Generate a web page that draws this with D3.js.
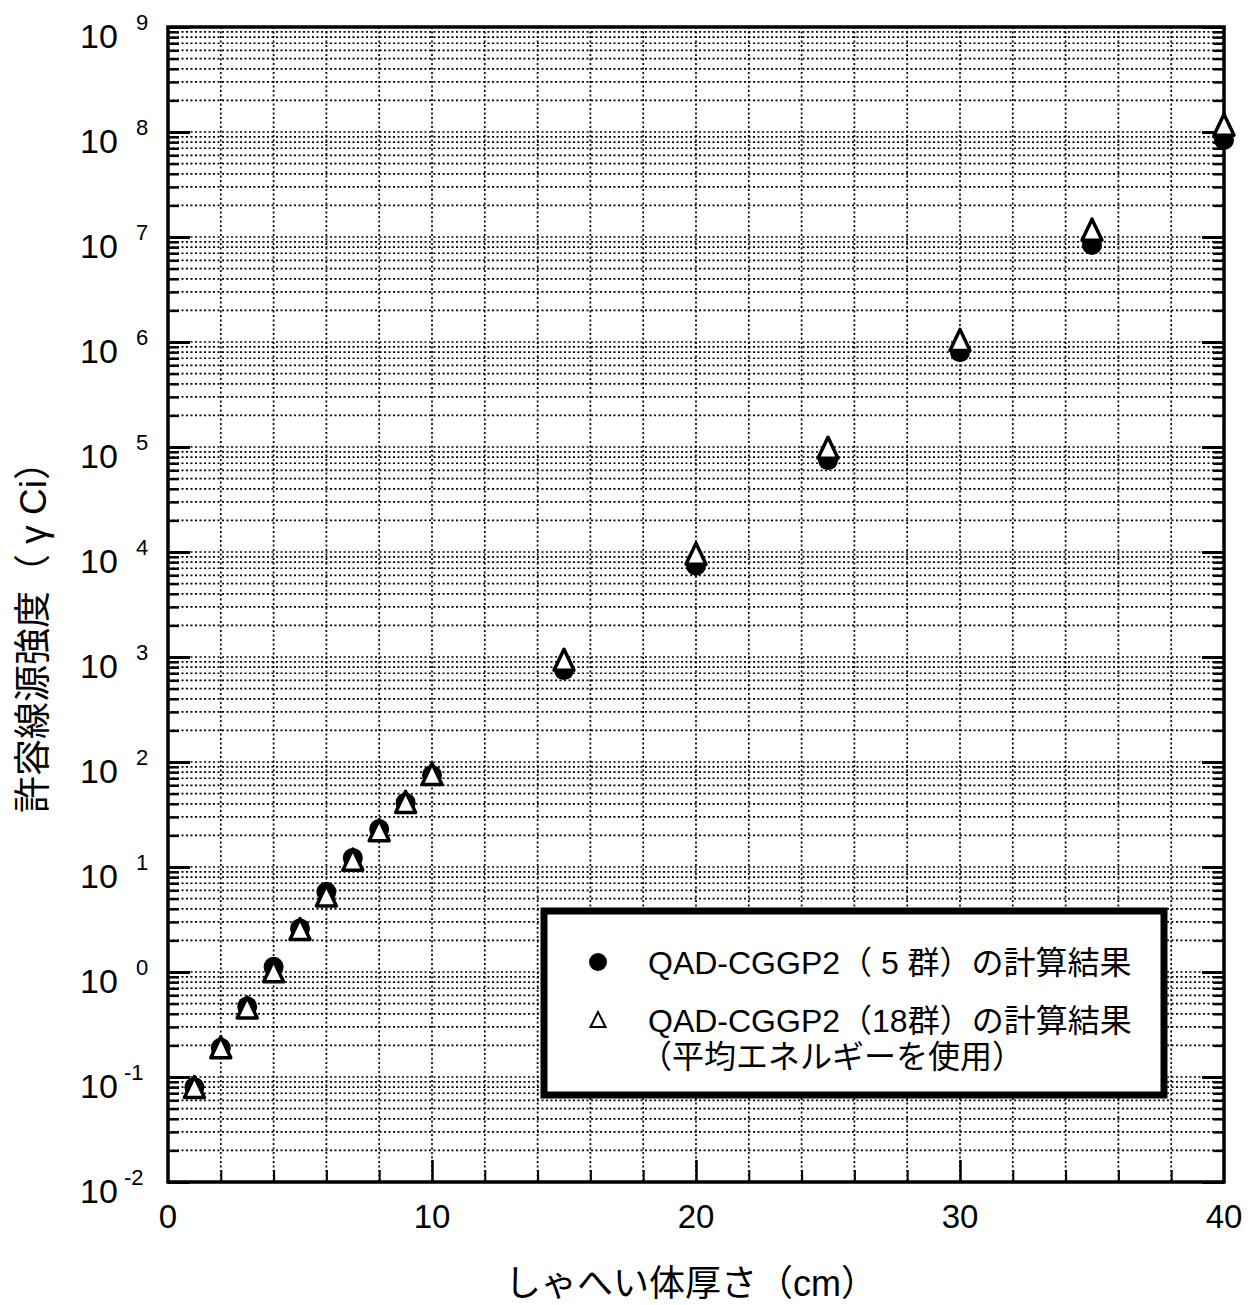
<!DOCTYPE html>
<html>
<head>
<meta charset="utf-8">
<script src="https://cdn.jsdelivr.net/npm/d3@7"></script>
<style>
  body { margin: 0; background: #fff; }
  text { font-family: "Liberation Sans", "Noto Sans CJK JP", sans-serif; fill: #000; }
</style>
</head>
<body>
<svg id="chart" width="1248" height="1305"></svg>
<script>
// shield thickness (cm)
var thickness = [1, 2, 3, 4, 5, 6, 7, 8, 9, 10, 15, 20, 25, 30, 35, 40];
// QAD-CGGP2 (5 groups)
var group5 = [0.08, 0.19, 0.47, 1.12, 2.6, 5.8, 12.2, 23, 41, 75, 750, 7400, 75000, 8.0e5, 8.4e6, 8.4e7];
// QAD-CGGP2 (18 groups, mean energy)
var group18 = [0.075, 0.18, 0.43, 0.95, 2.4, 5.0, 11, 21, 39, 72, 880, 9000, 92000, 9.8e5, 1.1e7, 1.1e8];

var xTicks = [0, 10, 20, 30, 40];
var yDecades = [-2, -1, 0, 1, 2, 3, 4, 5, 6, 7, 8, 9];

var legendRows = ["QAD-CGGP2（ 5 群）の計算結果", "QAD-CGGP2（18群）の計算結果", "（平均エネルギーを使用）"];
var xTitle = "しゃへい体厚さ（cm）";
var yTitle = "許容線源強度（ γ Ci）";

var pLeft = 168, pRight = 1224, pTop = 27, pBottom = 1182;

var svg = d3.select("#chart");

var x = d3.scaleLinear().domain([0, 40]).range([pLeft, pRight]);
var y = d3.scaleLog().domain([1e-2, 1e9]).range([pBottom, pTop]);

var minorY = y.ticks(20).filter(v => Math.abs(Math.log10(v) - Math.round(Math.log10(v))) > 1e-9);
var decadeY = yDecades.map(e => Math.pow(10, e));
var gridX = d3.range(2, 40, 2);

// dotted grid
var grid = svg.append("g")
    .attr("stroke", "#000")
    .attr("stroke-width", 1.7)
    .attr("stroke-dasharray", "2,2.5");

grid.selectAll("line.h")
    .data(minorY.concat(decadeY.slice(1, -1)))
    .join("line")
    .attr("class", "h")
    .attr("x1", pLeft).attr("x2", pRight)
    .attr("y1", d => y(d)).attr("y2", d => y(d));

grid.selectAll("line.v")
    .data(gridX)
    .join("line")
    .attr("class", "v")
    .attr("x1", d => x(d)).attr("x2", d => x(d))
    .attr("y1", pTop).attr("y2", pBottom);

// axes with inward ticks
function tickStyle(g, w) {
    g.select(".domain").remove();
    g.selectAll(".tick line").attr("stroke", "#000").attr("stroke-width", w);
    g.selectAll(".tick text").remove();
}

svg.append("g").attr("transform", `translate(${pLeft},0)`)
    .call(d3.axisLeft(y).tickValues(minorY).tickSize(-11))
    .call(g => tickStyle(g, 2.5));
svg.append("g").attr("transform", `translate(${pLeft},0)`)
    .call(d3.axisLeft(y).tickValues(decadeY).tickSize(-22))
    .call(g => tickStyle(g, 3));
svg.append("g").attr("transform", `translate(${pRight},0)`)
    .call(d3.axisRight(y).tickValues(minorY).tickSize(-11))
    .call(g => tickStyle(g, 2.5));
svg.append("g").attr("transform", `translate(${pRight},0)`)
    .call(d3.axisRight(y).tickValues(decadeY).tickSize(-22))
    .call(g => tickStyle(g, 3));
svg.append("g").attr("transform", `translate(0,${pBottom})`)
    .call(d3.axisBottom(x).tickValues(gridX.filter(d => d % 10)).tickSize(-12))
    .call(g => tickStyle(g, 2));
svg.append("g").attr("transform", `translate(0,${pBottom})`)
    .call(d3.axisBottom(x).tickValues([10, 20, 30]).tickSize(-22))
    .call(g => tickStyle(g, 2.5));

// frame
svg.append("rect")
    .attr("x", pLeft).attr("y", pTop)
    .attr("width", pRight - pLeft).attr("height", pBottom - pTop)
    .attr("fill", "none")
    .attr("stroke", "#000")
    .attr("stroke-width", 3.5);

// y tick labels  10^n
var yl = svg.append("g").selectAll("text")
    .data(yDecades)
    .join("text")
    .attr("x", 80)
    .attr("y", d => y(Math.pow(10, d)) + 21)
    .attr("font-size", 34);
yl.append("tspan").text("10");
yl.append("tspan")
    .attr("x", d => d < 0 ? 124 : 136)
    .attr("dy", -18)
    .attr("font-size", 22)
    .text(d => d);

// x tick labels
svg.append("g").selectAll("text")
    .data(xTicks)
    .join("text")
    .attr("x", d => x(d))
    .attr("y", pBottom + 46)
    .attr("text-anchor", "middle")
    .attr("font-size", 33)
    .text(d => d);

// titles
svg.append("text")
    .attr("x", 691).attr("y", 1296)
    .attr("text-anchor", "middle")
    .attr("font-size", 36)
    .text(xTitle);

svg.append("text")
    .attr("transform", "translate(46,628) rotate(-90)")
    .attr("text-anchor", "middle")
    .attr("font-size", 37)
    .text(yTitle);

// markers
var tri = "M0,-13.5L10,7.5L-10,7.5Z";
var pts5 = thickness.map((t, i) => [t, group5[i]]);
var pts18 = thickness.map((t, i) => [t, group18[i]]);

svg.append("g").selectAll("circle")
    .data(pts5)
    .join("circle")
    .attr("cx", d => x(d[0]))
    .attr("cy", d => y(d[1]))
    .attr("r", 10)
    .attr("fill", "#000");

svg.append("g").selectAll("path")
    .data(pts18)
    .join("path")
    .attr("transform", d => `translate(${x(d[0])},${y(d[1])})`)
    .attr("d", tri)
    .attr("fill", "#fff")
    .attr("stroke", "#000")
    .attr("stroke-width", 3.5)
    .attr("stroke-linejoin", "round");

// legend
var lg = svg.append("g");
lg.append("rect")
    .attr("x", 544).attr("y", 911)
    .attr("width", 620).attr("height", 184)
    .attr("fill", "#fff")
    .attr("stroke", "#000")
    .attr("stroke-width", 7);
lg.append("circle")
    .attr("cx", 598).attr("cy", 962).attr("r", 9)
    .attr("fill", "#000");
lg.append("path")
    .attr("transform", "translate(598,1021)")
    .attr("d", "M0,-9L7.5,6L-7.5,6Z")
    .attr("fill", "none")
    .attr("stroke", "#000")
    .attr("stroke-width", 2);
lg.selectAll("text")
    .data(legendRows)
    .join("text")
    .attr("x", (d, i) => i == 2 ? 640 : 648)
    .attr("y", (d, i) => [974, 1032, 1068][i])
    .attr("font-size", 32)
    .text(d => d);
</script>
</body>
</html>
